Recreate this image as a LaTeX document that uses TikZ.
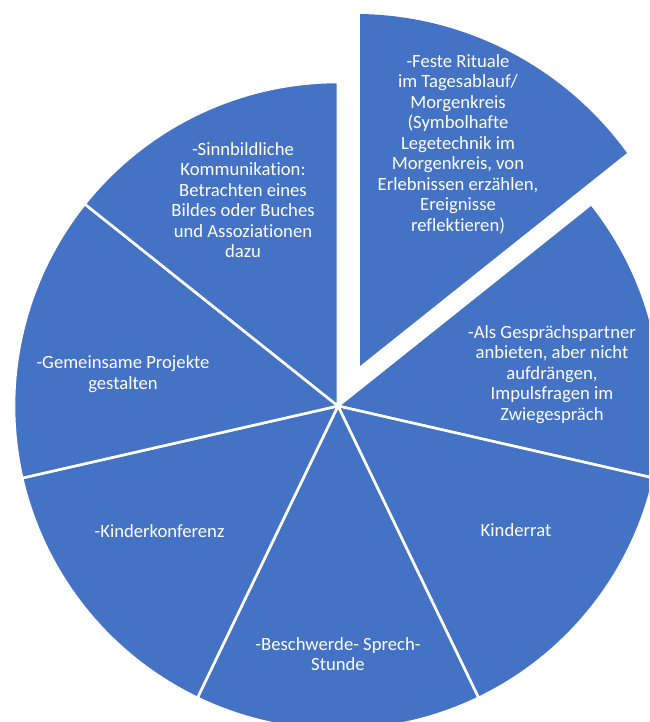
\documentclass[tikz,border=0pt]{standalone}
\usepackage{fontspec}
\setmainfont{Carlito}[Ligatures={NoCommon}]
\definecolor{pieblue}{HTML}{4472C4}
\begin{document}
\begin{tikzpicture}[x=1pt,y=1pt,
  slice/.style={fill=pieblue,draw=white,line width=2.6pt,line join=round},
  lbl/.style={text=white,align=center,inner sep=0pt,font=\fontsize{18.67}{20.5}\selectfont}]
\useasboundingbox (0,0) rectangle (649,722);
\clip (0,0) rectangle (649,722);
\coordinate (C) at (338,316);
\def\R{324pt}
% regular slices (clockwise from the gap)
\foreach \a/\b in {38.5714/-12.8571, -12.8571/-64.2857, -64.2857/-115.7143,
                   -115.7143/-167.1429, -167.1429/-218.5714, 141.4286/90}
  {\filldraw[slice] (C) -- ++(\a:\R) arc[start angle=\a, end angle=\b, radius=\R] -- cycle;}
% exploded slice
\coordinate (E) at (360,356);
\fill[pieblue] (E) -- (360,708) arc[start angle=89.06, end angle=35.93, radius=336.5pt] -- cycle;
% labels
\node[lbl] (feste) at (458,578) {-Feste Rituale\\im Tagesablauf/\\Morgenkreis\\(Symbolhafte\\Legetechnik im\\Morgenkreis, von\\Erlebnissen erzählen,\\Ereignisse\\reflektieren)};
\node[lbl] (sinn) at (243,522) {-Sinnbildliche\\Kommunikation:\\Betrachten eines\\Bildes oder Buches\\und Assoziationen\\dazu};
\node[lbl] (als) at (552,347.5) {-Als Gesprächspartner\\anbieten, aber nicht\\aufdrängen,\\Impulsfragen im\\Zwiegespräch};
\node[lbl] (gemein) at (123,348) {-Gemeinsame Projekte\\gestalten};
\node[lbl] (konf) at (159.5,191) {-Kinderkonferenz};
\node[lbl] (besch) at (338,68) {-Beschwerde- Sprech-\\Stunde};
\node[lbl] (rat) at (516,192) {Kinderrat};
\end{tikzpicture}
\end{document}
